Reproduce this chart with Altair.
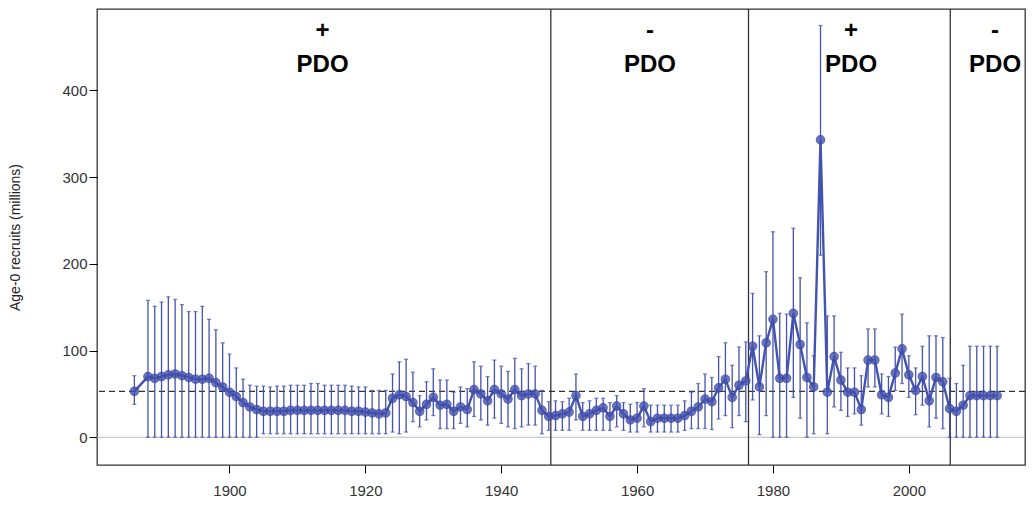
import pandas as pd
import altair as alt

years = [1886] + list(range(1888, 2014))
recruits = ([53]
    + [70, 68, 70, 72, 73, 71, 69, 67, 67, 68, 63, 58, 52, 47, 40, 35, 32]
    + [30, 30, 30, 30, 31, 31, 31, 31, 31, 31, 31, 31, 31, 30, 30, 29, 28, 27, 28]
    + [45, 49, 47, 40, 30, 38, 46, 37, 38, 30, 35, 32, 55, 50, 42, 55, 50, 44, 55, 48, 50, 50]
    + [31, 24, 25, 27, 29, 48, 24, 27, 31, 34, 24, 36, 27, 20, 22, 36, 18, 22, 22, 22, 22, 25, 30, 35, 44, 41, 57, 67, 46, 60, 65]
    + [105, 58, 109, 136, 68, 68, 143, 107, 69, 58, 343, 52, 93, 66, 52, 52, 32, 89, 89, 49, 46, 74, 102, 72, 54, 70, 42, 69, 64, 33, 30, 37, 48, 48, 48, 48, 48])
upper = ([71]
    + [158, 151, 156, 162, 159, 153, 145, 145, 151, 136, 124, 109, 96, 80, 67, 60, 59]
    + [59, 58, 59, 59, 60, 60, 60, 62, 62, 60, 60, 60, 60, 59, 58, 58, 54, 54, 54]
    + [73, 87, 90, 75, 48, 64, 79, 66, 66, 52, 58, 56, 87, 82, 70, 89, 82, 76, 91, 79, 85, 82]
    + [54, 41, 42, 41, 45, 73, 40, 42, 45, 45, 40, 48, 40, 38, 40, 56, 37, 37, 37, 37, 37, 42, 52, 62, 73, 69, 93, 109, 83, 104, 110]
    + [166, 117, 191, 237, 143, 142, 241, 184, 132, 94, 475, 140, 140, 98, 80, 80, 71, 125, 125, 73, 70, 104, 142, 94, 80, 105, 117, 117, 115, 68, 62, 83, 105, 105, 105, 105, 105])
lower = ([38]
    + [0] * 17
    + [4] * 19
    + [6, 4, 6, 18, 12, 20, 25, 10, 10, 10, 16, 12, 24, 20, 14, 22, 16, 12, 10, 12, 14, 14]
    + [4, 8, 8, 8, 8, 20, 8, 8, 8, 8, 8, 12, 8, 6, 6, 12, 6, 6, 6, 6, 6, 8, 10, 10, 10, 9, 21, 25, 11, 25, 18]
    + [43, 3, 25, 0, 0, 0, 46, 22, 0, 4, 210, 4, 35, 31, 24, 27, 14, 58, 58, 27, 24, 54, 62, 46, 26, 37, 12, 22, 10, 0, 0, 0, 0, 0, 0, 0, 0])

regime_breaks = [1947.3, 1976.4, 2006.1]
regime_x = [1913.7, 1961.9, 1991.5, 2012.7]
regime_sign = ['+', '-', '+', '-']
mean_level = 53

df = pd.DataFrame({'Year': years, 'Recruits': recruits, 'Lo': lower, 'Hi': upper})
labels = pd.DataFrame({'x': regime_x, 'sign': regime_sign, 'word': ['PDO'] * 4})

blue = '#4452b0'
xs = alt.Scale(domain=[1880.5, 2017.1], nice=False, zero=False)
ys = alt.Scale(domain=[-32, 494], nice=False)

base = alt.Chart(df)

bars = base.mark_rule(color=blue, strokeWidth=1.3).encode(
    x=alt.X('Year:Q', scale=xs, title=None,
            axis=alt.Axis(values=[1900, 1920, 1940, 1960, 1980, 2000], format='d', grid=False,
                          domain=False, tickColor='black', tickSize=8, labelFontSize=15,
                          labelColor='#333', labelPadding=10)),
    y=alt.Y('Lo:Q', scale=ys, title='Age-0 recruits (millions)',
            axis=alt.Axis(values=[0, 100, 200, 300, 400], grid=False, domain=False,
                          tickColor='black', tickSize=8, labelFontSize=15, labelColor='#333',
                          titleFontSize=14, titleFontWeight='normal', titleColor='#222',
                          titlePadding=39)),
    y2='Hi:Q'
)
caps_hi = base.mark_tick(color=blue, size=4, thickness=1.3, orient='horizontal').encode(
    x=alt.X('Year:Q', scale=xs), y=alt.Y('Hi:Q', scale=ys))
caps_lo = base.mark_tick(color=blue, size=4, thickness=1.3, orient='horizontal').encode(
    x=alt.X('Year:Q', scale=xs), y=alt.Y('Lo:Q', scale=ys))
line = base.mark_line(color=blue, strokeWidth=2.4).encode(
    x=alt.X('Year:Q', scale=xs), y=alt.Y('Recruits:Q', scale=ys))
points = base.mark_circle(color=blue, size=70, opacity=0.8, stroke='#3a46a0', strokeWidth=1.2).encode(
    x=alt.X('Year:Q', scale=xs), y=alt.Y('Recruits:Q', scale=ys))

zero = alt.Chart(pd.DataFrame({'y': [0]})).mark_rule(color='#bbbbbb').encode(y=alt.Y('y:Q', scale=ys))
mean = alt.Chart(pd.DataFrame({'y': [mean_level]})).mark_rule(color='#333', strokeDash=[6, 4], strokeWidth=1.3).encode(
    y=alt.Y('y:Q', scale=ys))
breaks = alt.Chart(pd.DataFrame({'x': regime_breaks})).mark_rule(color='#333', strokeWidth=1.3).encode(
    x=alt.X('x:Q', scale=xs))

sign_text = alt.Chart(labels).mark_text(fontSize=24, fontWeight='bold', font='Liberation Sans', color='black').encode(
    x=alt.X('x:Q', scale=xs), y=alt.value(22), text='sign:N')
word_text = alt.Chart(labels).mark_text(fontSize=24, fontWeight='bold', font='Liberation Sans', color='black').encode(
    x=alt.X('x:Q', scale=xs), y=alt.value(56), text='word:N')

chart = (zero + mean + breaks + bars + caps_hi + caps_lo + line + points + sign_text + word_text).properties(
    width=1018, height=490,
    padding={'left': 0, 'top': 0, 'right': 0, 'bottom': 0},
    autosize=alt.AutoSizeParams(type='fit', contains='padding'),
    background='white'
).configure_view(stroke='#333', strokeWidth=1.3).configure_axis(
    labelFont='Liberation Sans', titleFont='Liberation Sans')

chart.save('out.html', embed_options={'renderer': 'svg', 'actions': False})
